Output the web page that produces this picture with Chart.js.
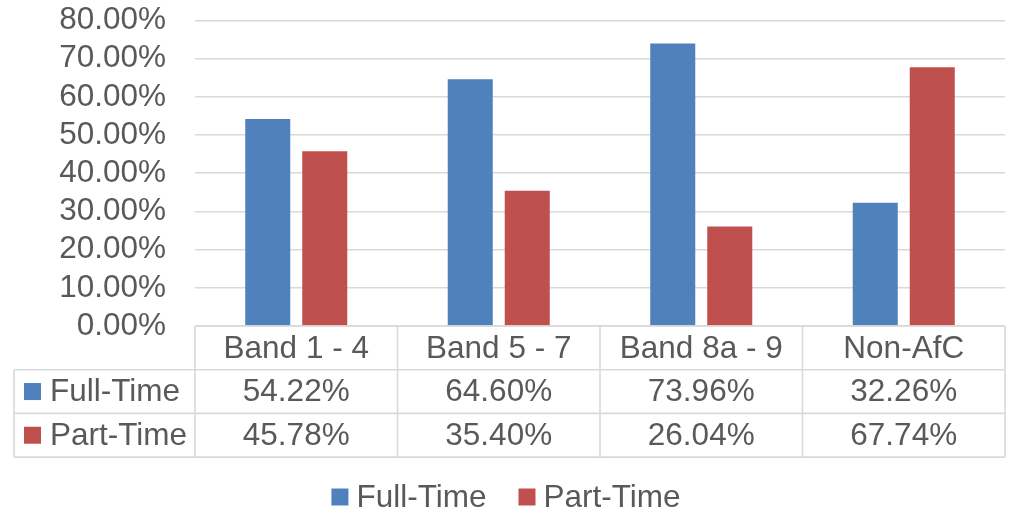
<!DOCTYPE html>
<html>
<head>
<meta charset="utf-8">
<script src="https://cdn.jsdelivr.net/npm/chart.js@4/dist/chart.umd.min.js"></script>
<style>
  html, body { margin: 0; padding: 0; background: #ffffff; }
  #wrap { width: 1012px; height: 519px; }
</style>
</head>
<body>
<div id="wrap"><canvas id="c" width="1012" height="519"></canvas></div>
<script>
// Share of staff working full-time vs part-time, by pay band
const categories = ['Band 1 - 4', 'Band 5 - 7', 'Band 8a - 9', 'Non-AfC'];
const fullTime = [54.22, 64.60, 73.96, 32.26];
const partTime = [45.78, 35.40, 26.04, 67.74];
const seriesNames = ['Full-Time', 'Part-Time'];
const yTicks = [0, 10, 20, 30, 40, 50, 60, 70, 80];

const BLUE = '#4F81BD';
const RED = '#C0504D';
const TEXT = '#595959';
const LINE = '#d9d9d9';
const FONT_FAMILY = '"Liberation Sans", Arial, sans-serif';
const FONT_SIZE = 31.5;

const pct = v => v.toFixed(2) + '%';

// Data table under the plot plus the legend at the bottom
const tablePlugin = {
  id: 'dataTable',
  afterDraw(chart) {
    const ctx = chart.ctx;
    const area = chart.chartArea;
    const xs = chart.scales.x;
    const n = categories.length;
    const colW = (area.right - area.left) / n;
    const rowH = 43.7;
    const top = area.bottom;
    const rows = [top, top + rowH, top + 2 * rowH, top + 3 * rowH];
    const keyLeft = 14;

    ctx.save();
    ctx.strokeStyle = LINE;
    ctx.lineWidth = 1.6;
    ctx.beginPath();
    // horizontal rules
    ctx.moveTo(area.left, rows[0]); ctx.lineTo(area.right, rows[0]);
    for (let r = 1; r < rows.length; r++) {
      ctx.moveTo(keyLeft, rows[r]); ctx.lineTo(area.right, rows[r]);
    }
    // vertical rules
    for (let i = 0; i <= n; i++) {
      const x = area.left + i * colW;
      ctx.moveTo(x, rows[0]); ctx.lineTo(x, rows[3]);
    }
    ctx.moveTo(keyLeft, rows[1]); ctx.lineTo(keyLeft, rows[3]);
    ctx.stroke();

    ctx.fillStyle = TEXT;
    ctx.font = FONT_SIZE + 'px ' + FONT_FAMILY;
    ctx.textAlign = 'center';
    ctx.textBaseline = 'middle';
    const series = [fullTime, partTime];
    for (let i = 0; i < n; i++) {
      const cx = xs.getPixelForValue(i);
      ctx.fillText(categories[i], cx, (rows[0] + rows[1]) / 2 + 1);
      for (let s = 0; s < series.length; s++) {
        ctx.fillText(pct(series[s][i]), cx, (rows[s + 1] + rows[s + 2]) / 2 + 1);
      }
    }

    // row headers with colour keys
    const colors = [BLUE, RED];
    ctx.textAlign = 'left';
    for (let s = 0; s < seriesNames.length; s++) {
      const cy = (rows[s + 1] + rows[s + 2]) / 2;
      ctx.fillStyle = colors[s];
      ctx.fillRect(24, cy - 8.5, 17, 17);
      ctx.fillStyle = TEXT;
      ctx.fillText(seriesNames[s], 50, cy + 1);
    }

    // legend
    const boxSize = 17, boxGap = 8, itemGap = 32;
    const widths = seriesNames.map(t => ctx.measureText(t).width);
    const total = widths.reduce((a, w) => a + boxSize + boxGap + w, 0) + itemGap * (seriesNames.length - 1);
    let x = chart.width / 2 - total / 2;
    const ly = 497;
    for (let s = 0; s < seriesNames.length; s++) {
      ctx.fillStyle = colors[s];
      ctx.fillRect(x, ly - 8.5, boxSize, boxSize);
      ctx.fillStyle = TEXT;
      ctx.fillText(seriesNames[s], x + boxSize + boxGap, ly + 1);
      x += boxSize + boxGap + widths[s] + itemGap;
    }
    ctx.restore();
  }
};

new Chart(document.getElementById('c'), {
  type: 'bar',
  data: {
    labels: categories,
    datasets: [
      { label: seriesNames[0], data: fullTime, backgroundColor: BLUE },
      { label: seriesNames[1], data: partTime, backgroundColor: RED }
    ]
  },
  options: {
    responsive: false,
    animation: false,
    devicePixelRatio: 1,
    layout: { padding: { top: 20.5, right: 7, bottom: 193, left: 0 } },
    datasets: {
      bar: { categoryPercentage: 0.563, barPercentage: 0.79 }
    },
    plugins: {
      legend: { display: false },
      tooltip: { enabled: false }
    },
    scales: {
      x: {
        display: false,
        grid: { display: false }
      },
      y: {
        min: 0,
        max: 80,
        afterFit(scale) {
          scale.width = 195;
          scale.paddingTop = 0;
          scale.paddingBottom = 0;
        },
        afterBuildTicks(scale) { scale.ticks = yTicks.map(v => ({ value: v })); },
        border: { display: false },
        grid: { color: LINE, lineWidth: 1.6, drawTicks: false },
        ticks: {
          autoSkip: false,
          padding: 29,
          color: TEXT,
          font: { family: FONT_FAMILY, size: FONT_SIZE },
          callback: v => pct(v)
        }
      }
    }
  },
  plugins: [tablePlugin]
});
</script>
</body>
</html>
